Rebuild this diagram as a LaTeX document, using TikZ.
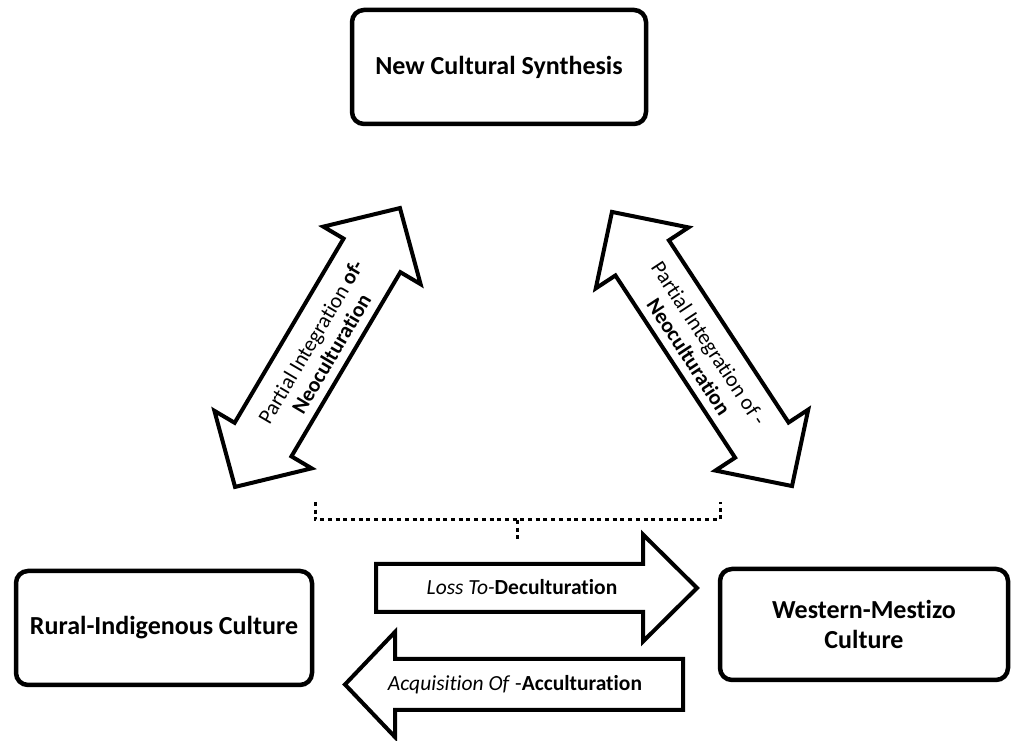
\documentclass[tikz,border=0pt]{standalone}
\usepackage{fontspec}
\setmainfont{Carlito}[Ligatures=NoCommon]
\begin{document}
\begin{tikzpicture}[x=1pt,y=1pt,
  box/.style={draw=black, line width=4.5pt, rounded corners=12pt, fill=white,
    align=center, font=\fontsize{26}{30}\selectfont\bfseries, inner sep=0pt},
  blk/.style={draw=black, line width=4pt, fill=white, line join=miter},
  lbl/.style={inner sep=0pt, font=\fontsize{21.5}{24}\selectfont, align=center},
  guide/.style={line width=3pt, dash pattern=on 4pt off 3.7pt},
  % double-headed block arrow centred on the origin, along the x axis
  % #1 half length, #2 head length, #3 head half width, #4 shaft half width
  pics/dblarrow/.style args={#1/#2/#3/#4}{code={
    \draw[blk] (#1,0) -- ({#1-#2},#3) -- ({#1-#2},#4) -- ({-#1+#2},#4)
      -- ({-#1+#2},#3) -- (-#1,0) -- ({-#1+#2},-#3) -- ({-#1+#2},-#4)
      -- ({#1-#2},-#4) -- ({#1-#2},-#3) -- cycle;
  }},
  % single block arrow, tail centre at the origin, pointing along +x
  % #1 length, #2 head length, #3 head half width, #4 shaft half width
  pics/onearrow/.style args={#1/#2/#3/#4}{code={
    \draw[blk] (#1,0) -- ({#1-#2},#3) -- ({#1-#2},#4) -- (0,#4) -- (0,-#4)
      -- ({#1-#2},-#4) -- ({#1-#2},-#3) -- cycle;
  }},
]
\useasboundingbox (0,0) rectangle (1013,741);

% culture boxes
\node[box, minimum width=294pt, minimum height=114pt] (synth) at (499,674)
  {New Cultural Synthesis};
\node[box, minimum width=296pt, minimum height=114pt] (rural) at (164,113)
  {Rural-Indigenous Culture};
\node[box, minimum width=288pt, minimum height=111pt] (western) at (864,116.5)
  {Western-Mestizo\\Culture};

% neoculturation arrows
\pic[rotate=59.4] at (317.5,393.5) {dblarrow=162/55/56.5/33};
\node[lbl, rotate=59.4] (neoL) at (321,393)
  {Partial Integration \textbf{of-}\\\textbf{Neoculturation}};
\pic[rotate=-56.7] at (702,392) {dblarrow=164/55/55.5/32};
\node[lbl, rotate=-56.7] (neoR) at (699,391)
  {Partial Integration of -\\\textbf{Neoculturation}};

% bracket joining the two neoculturation arrows
\coordinate (bl) at (315,239);
\coordinate (br) at (720,239);
\coordinate (bm) at (517,221);
\coordinate (bd) at (517,200);
\draw[guide] (bl) -- (bl |- bm) -- (br |- bm) -- (br);
\draw[guide] (bm) -- (bd);

% deculturation / acculturation arrows
\pic at (376,153) {onearrow=321/54/53.5/24};
\node[lbl] (decul) at (522,154) {\textit{Loss To-}\textbf{Deculturation}};
\pic[rotate=180] at (683,56.5) {onearrow=338/50/52.5/25.5};
\node[lbl] (accul) at (515,56) {\textit{Acquisition Of} -\textbf{Acculturation}};
\end{tikzpicture}
\end{document}
